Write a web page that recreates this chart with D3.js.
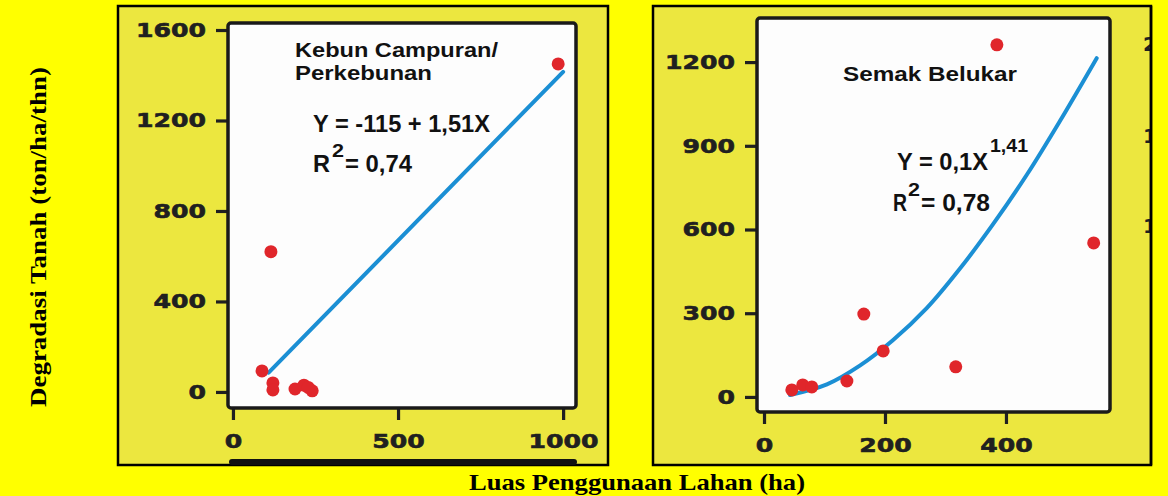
<!DOCTYPE html>
<html lang="id">
<head>
<meta charset="utf-8">
<title>Degradasi Tanah vs Luas Penggunaan Lahan</title>
<script src="https://d3js.org/d3.v7.min.js"></script>
<style>
  body { margin: 0; background: #ffff00; }
  svg { display: block; }
</style>
</head>
<body>
<script>
// --- data ---
// Kebun Campuran / Perkebunan
var kebunX = [985, 115, 88, 121, 121, 188, 215, 240, 228];
var kebunY = [1450, 620, 93, 40, 9, 13, 30, 5, 20];
var kebunFitX = [108, 1000];
var kebunFitY = [85, 1415];
var kebunXTicks = [0, 500, 1000];
var kebunYTicks = [0, 400, 800, 1200, 1600];

// Semak Belukar
var semakX = [385, 545, 165, 197, 317, 137, 46, 64, 79];
var semakY = [1262, 552, 297, 165, 108, 57, 25, 43, 36];
var semakFitX = [43, 104, 159, 213, 269, 324, 379, 435, 489, 550];
var semakFitY = [7, 45, 113, 203, 318, 460, 620, 798, 988, 1214];
var semakXTicks = [0, 200, 400];
var semakYTicks = [0, 300, 600, 900, 1200];

// cut-off tick labels of the next panel at the right edge
var nextPanelTicks = ["2", "1", "1"];

var W = 1168, H = 496;
var svg = d3.select("body").append("svg")
    .attr("width", W)
    .attr("height", H);

svg.append("rect").attr("width", W).attr("height", H).attr("fill", "#ffff00");

var panelFill = "#ece73f";
var ink = "#202020";

function fitText(sel, len) {
  sel.attr("textLength", len).attr("lengthAdjust", "spacingAndGlyphs");
}

function drawPanel(p) {
  // outer box
  svg.append("rect")
    .attr("x", p.box[0]).attr("y", p.box[1])
    .attr("width", p.box[2] - p.box[0]).attr("height", p.box[3] - p.box[1])
    .attr("fill", panelFill)
    .attr("stroke", "#000").attr("stroke-width", 2.5);

  var x = d3.scaleLinear().domain(p.xDomain).range([p.plot[0], p.plot[2]]);
  var y = d3.scaleLinear().domain(p.yDomain).range([p.plot[3], p.plot[1]]);

  // white plot area
  svg.append("rect")
    .attr("x", p.plot[0]).attr("y", p.plot[1])
    .attr("width", p.plot[2] - p.plot[0]).attr("height", p.plot[3] - p.plot[1])
    .attr("rx", 3)
    .attr("fill", "#fdfdfd");

  // axes
  var fmt = d3.format("d");
  var yAxis = svg.append("g")
    .attr("transform", "translate(" + (p.plot[0] - 1) + ",0)")
    .call(d3.axisLeft(y).tickValues(p.yTicks).tickFormat(fmt)
      .tickSize(11).tickSizeOuter(0).tickPadding(10));
  var xAxis = svg.append("g")
    .attr("transform", "translate(0," + (p.plot[3] + 1) + ")")
    .call(d3.axisBottom(x).tickValues(p.xTicks).tickFormat(fmt)
      .tickSize(11).tickSizeOuter(0).tickPadding(11));

  [yAxis, xAxis].forEach(function(a) {
    a.select(".domain").remove();
    a.selectAll("line").attr("stroke", ink).attr("stroke-width", 3.2);
    a.selectAll("text")
      .attr("fill", ink)
      .attr("stroke", ink).attr("stroke-width", 0.6)
      .style("font-family", "'DejaVu Sans', Verdana, sans-serif")
      .style("font-weight", "bold")
      .style("font-size", "20px")
      .each(function(d) { fitText(d3.select(this), fmt(d).length * 17.5); });
  });
  xAxis.selectAll("text").attr("dy", "0.85em");

  // fitted curve
  var fit = p.fitX.map(function(v, i) { return [v, p.fitY[i]]; });
  svg.append("path")
    .datum(fit)
    .attr("fill", "none")
    .attr("stroke", "#1b8fd4")
    .attr("stroke-width", 4)
    .attr("stroke-linecap", "round")
    .attr("d", d3.line()
      .x(function(d) { return x(d[0]); })
      .y(function(d) { return y(d[1]); })
      .curve(d3.curveCatmullRom));

  // points
  svg.append("g").selectAll("circle")
    .data(p.ptX.map(function(v, i) { return [v, p.ptY[i]]; }))
    .enter().append("circle")
    .attr("cx", function(d) { return x(d[0]); })
    .attr("cy", function(d) { return y(d[1]); })
    .attr("r", 6.5)
    .attr("fill", "#e0262b");

  // frame
  svg.append("rect")
    .attr("x", p.plot[0]).attr("y", p.plot[1])
    .attr("width", p.plot[2] - p.plot[0]).attr("height", p.plot[3] - p.plot[1])
    .attr("rx", 3)
    .attr("fill", "none")
    .attr("stroke", "#1a1a1a").attr("stroke-width", 3.5);

  // annotations
  p.labels.forEach(function(l) {
    var t = svg.append("text")
      .attr("x", l.x).attr("y", l.y)
      .attr("fill", "#111")
      .style("font-family", "'Liberation Sans', Arial, sans-serif")
      .style("font-weight", "bold")
      .style("font-size", l.size + "px")
      .text(l.text);
    fitText(t, l.w);
  });
}

drawPanel({
  box: [118, 6, 608, 465],
  plot: [228, 23, 576, 408],
  xDomain: [-15, 1039],
  yDomain: [-71, 1631],
  xTicks: kebunXTicks, yTicks: kebunYTicks,
  ptX: kebunX, ptY: kebunY,
  fitX: kebunFitX, fitY: kebunFitY,
  labels: [
    { text: "Kebun Campuran/", x: 295, y: 57, size: 21, w: 203 },
    { text: "Perkebunan", x: 295, y: 80, size: 21, w: 137 },
    { text: "Y = -115 + 1,51X", x: 313, y: 132, size: 23, w: 177 },
    { text: "R", x: 313, y: 172, size: 23, w: 17 },
    { text: "2", x: 332, y: 157, size: 18, w: 12 },
    { text: "= 0,74", x: 345, y: 172, size: 23, w: 67 }
  ]
});

drawPanel({
  box: [653, 6, 1151, 465],
  plot: [757, 18, 1110, 412],
  xDomain: [-11.6, 572],
  yDomain: [-54, 1358],
  xTicks: semakXTicks, yTicks: semakYTicks,
  ptX: semakX, ptY: semakY,
  fitX: semakFitX, fitY: semakFitY,
  labels: [
    { text: "Semak Belukar", x: 843, y: 81, size: 21, w: 174 },
    { text: "Y = 0,1X", x: 897, y: 170, size: 23, w: 91 },
    { text: "1,41", x: 990, y: 152, size: 19, w: 38 },
    { text: "R", x: 893, y: 211, size: 23, w: 14 },
    { text: "2", x: 908, y: 196, size: 18, w: 12 },
    { text: "= 0,78", x: 921, y: 211, size: 23, w: 69 }
  ]
});

// clipped labels from the panel beyond the right edge
svg.append("clipPath").attr("id", "edgeClip")
  .append("rect").attr("x", 1113).attr("y", 7).attr("width", 37).attr("height", 456);
svg.append("g").attr("clip-path", "url(#edgeClip)")
  .selectAll("text")
  .data(nextPanelTicks)
  .enter().append("text")
  .attr("x", 1143)
  .attr("y", function(d, i) { return [51, 143, 233][i]; })
  .attr("fill", ink)
  .style("font-family", "'DejaVu Sans', Verdana, sans-serif")
  .style("font-weight", "bold")
  .style("font-size", "20px")
  .text(function(d) { return d; });
// redraw right edge of the box over the clipped text
svg.append("line").attr("x1", 1151).attr("x2", 1151).attr("y1", 6).attr("y2", 465)
  .attr("stroke", "#000").attr("stroke-width", 2.5);

// dark bar along the bottom of the left panel (cropped piece of a chart below)
svg.append("rect")
  .attr("x", 229).attr("y", 459).attr("width", 348).attr("height", 6)
  .attr("rx", 3).attr("fill", "#111");

// axis titles
svg.append("text")
  .attr("transform", "translate(46,237) rotate(-90)")
  .attr("text-anchor", "middle")
  .style("font-family", "'Liberation Serif', 'Times New Roman', serif")
  .style("font-weight", "bold")
  .style("font-size", "24px")
  .attr("textLength", 340).attr("lengthAdjust", "spacingAndGlyphs")
  .text("Degradasi Tanah (ton/ha/thn)");

svg.append("text")
  .attr("x", 637).attr("y", 490)
  .attr("text-anchor", "middle")
  .style("font-family", "'Liberation Serif', 'Times New Roman', serif")
  .style("font-weight", "bold")
  .style("font-size", "24px")
  .attr("textLength", 336).attr("lengthAdjust", "spacingAndGlyphs")
  .text("Luas Penggunaan Lahan (ha)");
</script>
</body>
</html>
